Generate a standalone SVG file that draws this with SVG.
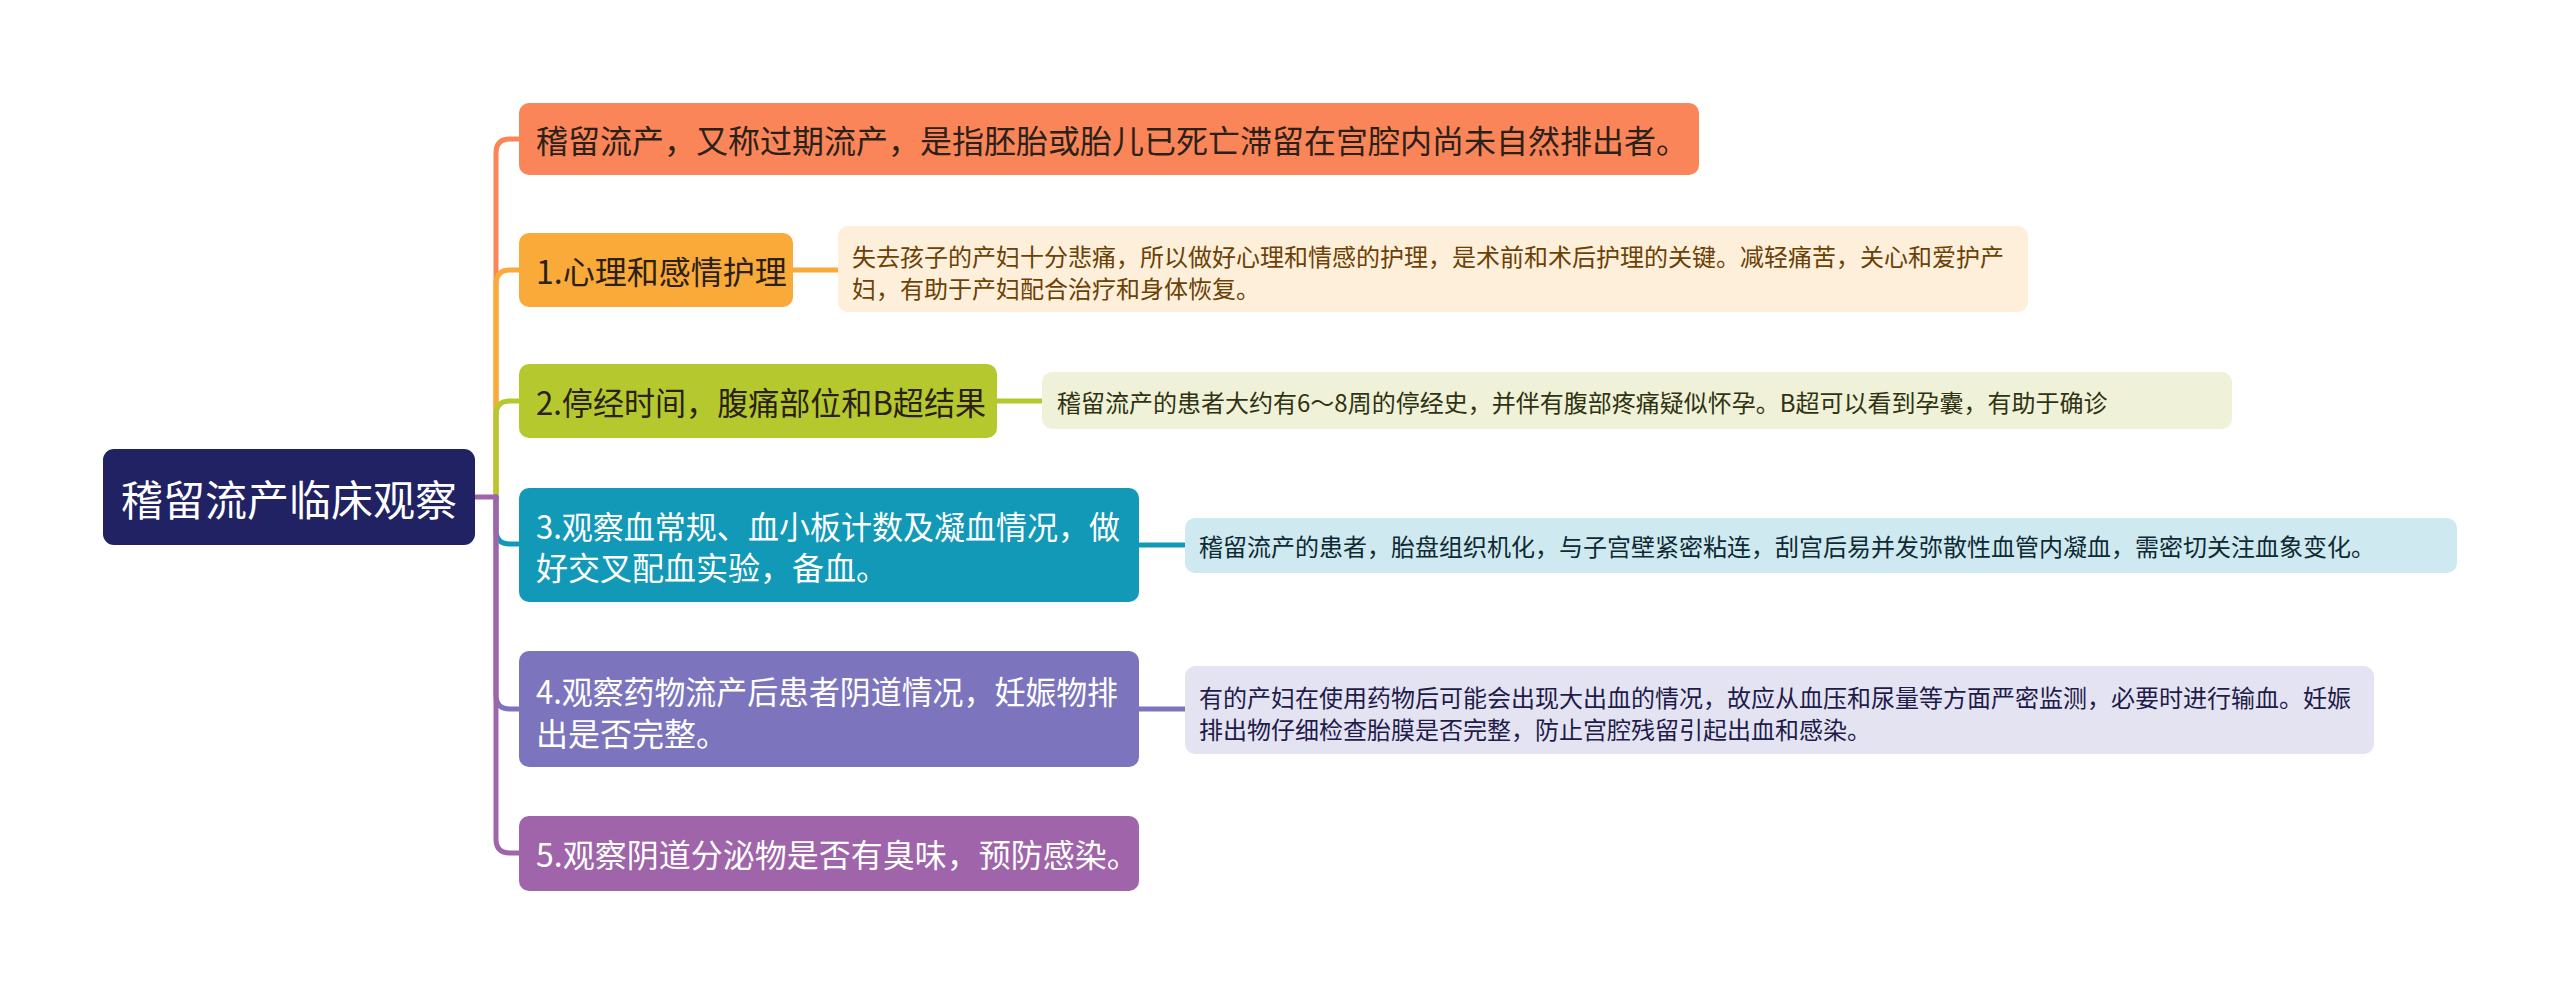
<svg xmlns="http://www.w3.org/2000/svg" width="2560" height="995" viewBox="0 0 2560 995">
<style>
text{font-family:"Noto Sans CJK SC","Noto Sans",sans-serif;dominant-baseline:central}
.root{font-size:42px;fill:#ffffff}
.br{font-size:32px}
.lf{font-size:24px}
.w{fill:#ffffff}
.d{fill:#2b2118}
.c{fill:none;stroke-width:5;stroke-linecap:round;stroke-linejoin:round}
</style>
<rect width="2560" height="995" fill="#ffffff"/>
<g id="connectors">
  <path class="c" stroke="#fa8559" d="M496,497 V153 Q496,139 510,139 H520"/>
  <path class="c" stroke="#f9aa38" d="M496,497 V284 Q496,270 510,270 H520"/>
  <path class="c" stroke="#b5c92f" d="M496,497 V415 Q496,401 510,401 H520"/>
  <path class="c" stroke="#1399b8" d="M496,497 V530 Q496,544 510,544 H520"/>
  <path class="c" stroke="#7c75bd" d="M496,497 V695 Q496,709 510,709 H520"/>
  <path class="c" stroke="#9f64a9" d="M496,497 V839 Q496,853 510,853 H520"/>
  <path class="c" stroke="#9f64a9" d="M475,497 H496"/>
  <path class="c" stroke="#f9aa38" stroke-width="6" d="M793,270 H840"/>
  <path class="c" stroke="#b5c92f" stroke-width="6" d="M997,401 H1044"/>
  <path class="c" stroke="#1399b8" stroke-width="6" d="M1139,545 H1187"/>
  <path class="c" stroke="#7c75bd" stroke-width="6" d="M1139,709 H1187"/>
</g>
<g id="root">
  <rect x="103" y="449" width="372" height="96" rx="11" fill="#202264"/>
  <text class="root" x="289" y="497" text-anchor="middle">稽留流产临床观察</text>
</g>
<g id="b0">
  <rect x="519" y="103" width="1180" height="72" rx="10" fill="#fa8559"/>
  <text class="br d" x="536" y="139">稽留流产，又称过期流产，是指胚胎或胎儿已死亡滞留在宫腔内尚未自然排出者。</text>
</g>
<g id="b1">
  <rect x="519" y="233" width="274" height="74" rx="10" fill="#f9aa38"/>
  <text class="br d" x="536" y="270">1.心理和感情护理</text>
</g>
<g id="l1">
  <rect x="838" y="226" width="1190" height="86" rx="10" fill="#fdefd9"/>
  <text class="lf" fill="#6b4106" x="852" y="255">失去孩子的产妇十分悲痛，所以做好心理和情感的护理，是术前和术后护理的关键。减轻痛苦，关心和爱护产</text>
  <text class="lf" fill="#6b4106" x="852" y="287">妇，有助于产妇配合治疗和身体恢复。</text>
</g>
<g id="b2">
  <rect x="519" y="364" width="478" height="74" rx="10" fill="#b5c92f"/>
  <text class="br d" x="536" y="401" textLength="450" lengthAdjust="spacingAndGlyphs">2.停经时间，腹痛部位和B超结果</text>
</g>
<g id="l2">
  <rect x="1042" y="372" width="1190" height="57" rx="10" fill="#eff2d8"/>
  <text class="lf" fill="#2f3312" x="1057" y="401">稽留流产的患者大约有6～8周的停经史，并伴有腹部疼痛疑似怀孕。B超可以看到孕囊，有助于确诊</text>
</g>
<g id="b3">
  <rect x="519" y="488" width="620" height="114" rx="10" fill="#1399b8"/>
  <text class="br w" x="536" y="525" textLength="584" lengthAdjust="spacingAndGlyphs">3.观察血常规、血小板计数及凝血情况，做</text>
  <text class="br w" x="536" y="566">好交叉配血实验，备血。</text>
</g>
<g id="l3">
  <rect x="1185" y="518" width="1272" height="55" rx="10" fill="#cfe9f0"/>
  <text class="lf" fill="#0f2a33" x="1199" y="545">稽留流产的患者，胎盘组织机化，与子宫壁紧密粘连，刮宫后易并发弥散性血管内凝血，需密切关注血象变化。</text>
</g>
<g id="b4">
  <rect x="519" y="651" width="620" height="116" rx="10" fill="#7c75bd"/>
  <text class="br w" x="536" y="690" textLength="582" lengthAdjust="spacingAndGlyphs">4.观察药物流产后患者阴道情况，妊娠物排</text>
  <text class="br w" x="536" y="732">出是否完整。</text>
</g>
<g id="l4">
  <rect x="1185" y="666" width="1189" height="88" rx="10" fill="#e4e3f1"/>
  <text class="lf" fill="#1f1b4a" x="1199" y="696">有的产妇在使用药物后可能会出现大出血的情况，故应从血压和尿量等方面严密监测，必要时进行输血。妊娠</text>
  <text class="lf" fill="#1f1b4a" x="1199" y="728">排出物仔细检查胎膜是否完整，防止宫腔残留引起出血和感染。</text>
</g>
<g id="b5">
  <rect x="519" y="816" width="620" height="75" rx="10" fill="#9f64a9"/>
  <text class="br w" x="536" y="853">5.观察阴道分泌物是否有臭味，预防感染。</text>
</g>
</svg>
